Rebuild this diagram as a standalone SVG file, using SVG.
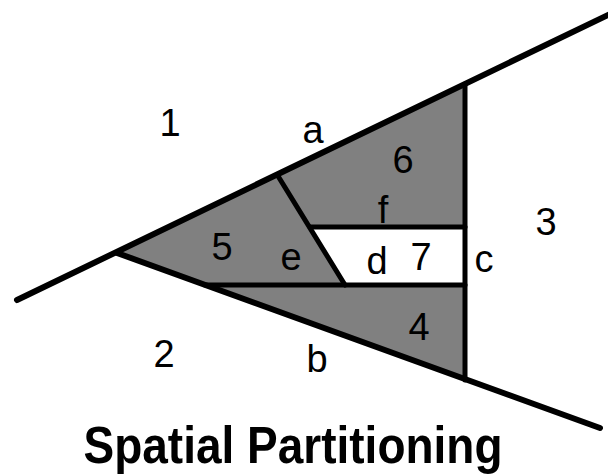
<svg xmlns="http://www.w3.org/2000/svg" width="608" height="475" viewBox="0 0 608 475">
<style>
.shade{fill:#808080;fill-rule:evenodd;stroke:none}
.ln{stroke:#000;stroke-width:5;fill:none;stroke-linecap:round}
.main{stroke-width:6}
.lbl{font-family:"Liberation Sans",Arial,sans-serif;font-size:38px;fill:#000;text-anchor:middle}
.title{font-family:"Liberation Sans",Arial,sans-serif;font-size:46px;font-weight:bold;fill:#000;text-anchor:middle}
</style>
<rect width="608" height="475" fill="#fff"/>
<g id="regions">
<path class="shade" d="M117,253 L465,83 L465,380 Z M310,227 L465,227 L465,285 L345,285 Z"/>
</g>
<g id="connectors">
<line id="a" class="ln main" x1="17" y1="300" x2="610" y2="14"/>
<line id="b" class="ln main" x1="117" y1="253" x2="600" y2="428"/>
<line id="c" class="ln" x1="465" y1="84" x2="465" y2="380"/>
<line id="e" class="ln" x1="278" y1="176" x2="345" y2="285"/>
<line id="f" class="ln" x1="310" y1="227" x2="465" y2="227"/>
<line id="d" class="ln" x1="205" y1="285" x2="465" y2="285"/>
</g>
<g id="labels">
<text class="lbl" x="170" y="136">1</text>
<text class="lbl" x="313" y="143">a</text>
<text class="lbl" x="403" y="173">6</text>
<text class="lbl" x="383" y="223">f</text>
<text class="lbl" x="546" y="235">3</text>
<text class="lbl" x="222" y="260">5</text>
<text class="lbl" x="291" y="270">e</text>
<text class="lbl" x="377" y="274">d</text>
<text class="lbl" x="421" y="270">7</text>
<text class="lbl" x="484" y="272">c</text>
<text class="lbl" x="419" y="340">4</text>
<text class="lbl" x="164" y="367">2</text>
<text class="lbl" x="317" y="372">b</text>
</g>
<g id="title">
<text class="title" transform="translate(293,463) scale(1,1.12)">Spatial Partitioning</text>
</g>
</svg>
